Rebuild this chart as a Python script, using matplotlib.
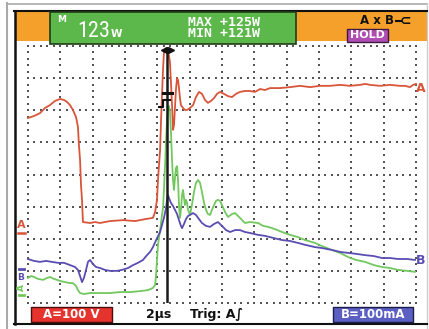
import matplotlib
matplotlib.use('Agg')
import matplotlib.pyplot as plt
from matplotlib.patches import Rectangle
from matplotlib import font_manager

# ---------------- data (time in µs, 2 µs/div; amplitude in screen divisions) ----------------
time_a = [0.00, 0.37, 0.74, 1.05, 1.36, 1.67, 1.98, 2.23, 2.41, 2.60, 2.78, 2.97, 3.09, 3.15, 3.22, 3.28,
          3.34, 3.40, 3.84, 4.14, 4.45, 5.07, 5.88, 6.62, 7.24, 7.73, 7.86, 7.98, 8.04, 8.17, 8.23, 8.29,
          8.35, 8.41, 8.54, 8.66, 8.78, 8.85, 8.91, 8.97, 9.03, 9.09, 9.15, 9.22, 9.28, 9.34, 9.40, 9.46,
          9.59, 9.71, 9.84, 10.02, 10.21, 10.39, 10.58, 10.76, 10.95, 11.13, 11.32, 11.51, 11.69, 11.88,
          12.12, 12.37, 12.62, 12.87, 13.11, 13.42, 13.73, 14.04, 14.35, 14.66, 14.97, 15.59, 16.21,
          16.83, 17.45, 18.06, 18.68, 19.30, 19.92, 20.54, 20.85, 21.16, 21.78, 22.39, 23.01, 23.32,
          23.63, 23.82, 24.00]
volt_a = [5.76, 5.82, 5.91, 6.07, 6.16, 6.29, 6.35, 6.32, 6.26, 6.16, 6.01, 5.79, 5.48, 4.92, 4.45, 3.67,
          3.21, 2.52, 2.49, 2.52, 2.49, 2.55, 2.58, 2.55, 2.61, 2.65, 2.83, 3.21, 3.83, 4.76, 5.70, 6.48,
          7.25, 7.81, 7.94, 7.88, 7.50, 6.79, 6.16, 5.39, 5.54, 6.07, 6.63, 7.00, 6.94, 6.69, 6.38, 6.16,
          6.07, 6.01, 6.01, 6.07, 6.16, 6.41, 6.57, 6.51, 6.32, 6.23, 6.29, 6.38, 6.51, 6.57,
          6.51, 6.44, 6.41, 6.51, 6.57, 6.60, 6.60, 6.57, 6.66, 6.63, 6.69, 6.69, 6.72,
          6.76, 6.72, 6.76, 6.76, 6.79, 6.76, 6.79, 6.82, 6.79, 6.76, 6.79, 6.76, 6.76,
          6.72, 6.79, 6.82]

time_p = [0.00, 0.19, 0.37, 0.62, 0.93, 1.18, 1.36, 1.61, 1.79, 2.04, 2.29, 2.60, 2.78, 2.97, 3.09, 3.22,
          3.46, 3.84, 4.45, 5.07, 5.69, 6.31, 6.93, 7.42, 7.73, 7.86, 7.92, 7.98, 8.04, 8.17, 8.29, 8.35,
          8.41, 8.48, 8.54, 8.60, 8.66, 8.72, 8.78, 8.85, 8.91, 8.97, 9.03, 9.09, 9.15, 9.22, 9.28, 9.34,
          9.40, 9.46, 9.53, 9.59, 9.65, 9.71, 9.77, 9.84, 9.90, 10.02, 10.14, 10.27, 10.39, 10.52, 10.64,
          10.76, 10.89, 11.01, 11.13, 11.26, 11.38, 11.51, 11.63, 11.75, 11.88, 12.00, 12.19, 12.37,
          12.62, 12.81, 13.11, 13.42, 13.73, 14.23, 14.54, 14.85, 15.28, 15.71, 16.21, 16.70, 17.14,
          17.75, 18.19, 18.81, 19.30, 19.80, 20.29, 20.85, 21.40, 21.90, 22.39, 22.89, 23.45, 23.94]
power = [0.78, 0.84, 0.81, 0.75, 0.72, 0.78, 0.81, 0.75, 0.72, 0.68, 0.65, 0.62, 0.62, 0.53, 0.40, 0.31,
         0.28, 0.31, 0.31, 0.31, 0.34, 0.34, 0.37, 0.40, 0.47, 0.56, 0.87, 1.34, 1.81, 2.27, 2.74, 2.96,
         3.52, 4.30, 5.07, 5.70, 6.07, 6.13, 5.95, 5.23, 4.45, 3.83, 3.52, 3.89, 4.20, 4.26, 3.83, 3.05,
         2.65, 2.90, 3.36, 3.52, 3.27, 3.05, 3.21, 3.11, 2.90, 2.74, 3.05, 3.46, 3.74, 3.83, 3.74,
         3.46, 3.11, 2.90, 2.77, 2.74, 2.90, 3.05, 3.18, 3.21, 3.18, 3.05, 2.83, 2.68,
         2.77, 2.80, 2.65, 2.49, 2.52, 2.49, 2.40, 2.37, 2.30, 2.21, 2.12, 2.05, 1.96,
         1.87, 1.77, 1.65, 1.56, 1.43, 1.34, 1.28, 1.18, 1.12, 1.09, 1.03, 1.00, 0.97]

time_b = [0.00, 0.37, 0.74, 1.11, 1.48, 1.86, 2.23, 2.60, 2.91, 3.09, 3.22, 3.34, 3.46, 3.59, 3.71, 3.84,
          4.02, 4.21, 4.45, 4.76, 5.07, 5.51, 5.81, 6.19, 6.50, 6.80, 7.11, 7.36, 7.55, 7.73, 7.98, 8.17,
          8.29, 8.41, 8.54, 8.60, 8.66, 8.72, 8.85, 8.97, 9.09, 9.22, 9.34, 9.46, 9.53, 9.65, 9.77, 9.90,
          10.02, 10.21, 10.39, 10.58, 10.76, 11.01, 11.26, 11.51, 11.75, 12.00, 12.25, 12.50, 12.81,
          13.11, 13.42, 13.73, 14.23, 14.66, 14.97, 15.71, 16.21, 16.70, 17.14, 17.75, 18.19, 18.81,
          19.30, 19.80, 20.29, 20.85, 21.40, 21.90, 22.39, 22.89, 23.45, 23.94]
curr_b = [1.37, 1.31, 1.28, 1.31, 1.28, 1.25, 1.25, 1.18, 1.12, 1.03, 0.84, 0.65, 0.78, 1.03, 1.28, 1.34,
          1.21, 1.12, 1.09, 1.03, 1.00, 1.00, 1.03, 1.09, 1.18, 1.25, 1.34, 1.49, 1.59, 1.74, 2.02, 2.21,
          2.43, 2.65, 2.96, 3.21, 3.36, 3.27, 3.11, 3.02, 2.90, 2.77, 2.58, 2.40, 2.33, 2.46, 2.61, 2.71,
          2.74, 2.80, 2.74, 2.61, 2.49, 2.40, 2.37, 2.46, 2.52, 2.40, 2.27, 2.21, 2.27,
          2.27, 2.21, 2.18, 2.12, 2.09, 2.05, 1.96, 1.93, 1.87, 1.81, 1.74, 1.71, 1.65,
          1.59, 1.56, 1.53, 1.49, 1.46, 1.40, 1.40, 1.37, 1.37, 1.34]

trigger_time = 8.60
n_xdiv, n_ydiv = 12, 8
us_per_div = 2

header_main = "123"
header_unit = "W"
header_max = "MAX +125W"
header_min = "MIN +121W"
range_a = "A=100 V"
range_b = "B=100mA"
timebase = "2µs"
trig_text = "Trig: A∫"

# ---------------- colours ----------------
C_RED = '#D8553A'
C_GREEN = '#72C85E'
C_PURPLE = '#5A4DB2'
C_ORANGE = '#F4A02A'
C_LCD = '#5DB84B'

# condensed face for the big LCD digits, if one is installed
cond_family = 'DejaVu Sans'
cond_stretch = 'normal'
names = {f.name for f in font_manager.fontManager.ttflist}
for cand in ['Liberation Sans Narrow', 'DejaVu Sans Condensed', 'Roboto Condensed', 'Open Sans Condensed']:
    if cand in names:
        cond_family = cand
        break
else:
    for f in font_manager.fontManager.ttflist:
        if f.name == 'DejaVu Sans' and f.stretch in ('condensed', 'semi-condensed', 600, 300):
            cond_stretch = 'condensed'
            break

W, H = 429, 329
fig = plt.figure(figsize=(W / 100, H / 100), dpi=100)
fig.patch.set_facecolor('white')

bg = fig.add_axes([0, 0, 1, 1], zorder=0)
bg.set_xlim(0, W); bg.set_ylim(H, 0); bg.axis('off')

# outer frames
bg.plot([7, 7], [3, 329], color='#aaaaaa', lw=1.5)
bg.plot([7, 427], [3.5, 3.5], color='#aaaaaa', lw=1.2)
bg.plot([427, 427], [3, 329], color='#cccccc', lw=1.0)
bg.plot([14.5, 14.5], [11, 324], color='#111111', lw=1.8)
bg.plot([14, 427], [11, 11], color='#111111', lw=1.5)
bg.plot([14, 427], [323.5, 323.5], color='#111111', lw=1.5)

# header
bg.add_patch(Rectangle((15.5, 12), 411, 28.5, facecolor=C_ORANGE, edgecolor='none'))

# ---------------- graticule + traces ----------------
L, R, T, B = 28, 416, 46, 303
ax = fig.add_axes([L / W, (H - B) / H, (R - L) / W, (B - T) / H], zorder=1)
ax.set_facecolor('none')
ax.set_xlim(0, n_xdiv * us_per_div)
ax.set_ylim(0, n_ydiv)
for s in ax.spines.values():
    s.set_visible(False)
ax.set_xticks([]); ax.set_yticks([])

gx, gy = [], []
for i in range(n_xdiv + 1):
    for k in range(n_ydiv * 5 + 1):
        gx.append(i * us_per_div); gy.append(k / 5)
for j in range(n_ydiv + 1):
    for k in range(n_xdiv * 5 + 1):
        gx.append(k * us_per_div / 5); gy.append(j)
ax.scatter(gx, gy, s=1.3, marker='s', color='#555555', linewidths=0, clip_on=False, zorder=1)

ax.plot(time_p, power, color=C_GREEN, lw=1.3, zorder=2, clip_on=False)
ax.plot(time_b, curr_b, color=C_PURPLE, lw=1.3, zorder=3, clip_on=False)
ax.plot(time_a, volt_a, color=C_RED, lw=1.3, zorder=4, clip_on=False)
ax.plot([trigger_time, trigger_time], [0, 7.9], color='#1a1a1a', lw=1.8, zorder=5)

# ---------------- foreground decorations ----------------
fg = fig.add_axes([0, 0, 1, 1], zorder=2)
fg.set_facecolor('none')
fg.set_xlim(0, W); fg.set_ylim(H, 0); fg.axis('off')

# LCD reading box
fg.add_patch(Rectangle((50, 11.5), 246, 32, facecolor=C_LCD, edgecolor='#1e3d17', lw=1.2))
fg.text(57, 19.5, "M", color='white', fontsize=6.5, fontweight='bold', ha='left', va='center')
fg.text(110, 37, header_main, color='white', fontsize=16, ha='right', va='baseline',
        family=cond_family, fontstretch=cond_stretch)
fg.text(111, 37, header_unit, color='white', fontsize=7.5, ha='left', va='baseline',
        fontweight='bold')
fg.text(188, 22, header_max, color='white', fontsize=9.5, fontweight='bold', ha='left', va='center',
        family='DejaVu Sans Mono')
fg.text(188, 33.5, header_min, color='white', fontsize=9.5, fontweight='bold', ha='left', va='center',
        family='DejaVu Sans Mono')

fg.text(360, 21, "A x B", color='#111111', fontsize=8.5, fontweight='bold', ha='left', va='center')
fg.plot([396, 401], [21, 21], color='#111111', lw=1.5)
fg.text(400, 21, "⊂", color='#111111', fontsize=10, fontweight='bold', ha='left', va='center')
fg.add_patch(Rectangle((347, 28.5), 41, 13, facecolor='#B04DB3', edgecolor='#3d1a40', lw=1.0))
fg.text(367.5, 35.3, "HOLD", color='white', fontsize=8, fontweight='bold', ha='center', va='center')

# trigger cursor marks
fg.plot([163.5], [50], marker='<', color='#111111', markersize=4.5)
fg.plot([170.5], [50], marker='>', color='#111111', markersize=4.5)
fg.plot([163, 172], [93, 93], color='#111111', lw=2.2)
fg.plot([159, 163, 163, 170], [107, 107, 99.5, 99.5], color='#111111', lw=1.5)

# channel markers
fg.text(21, 225, "A", color=C_RED, fontsize=8, fontweight='bold', ha='center', va='center')
fg.plot([17.5, 24.5], [232.5, 232.5], color=C_RED, lw=1.8)
fg.plot([18.5, 23.5], [269, 269], color=C_PURPLE, lw=2)
fg.text(21, 278, "B", color=C_PURPLE, fontsize=6.5, fontweight='bold', ha='center', va='center')
fg.text(21, 287.5, "A", color=C_GREEN, fontsize=6.5, fontweight='bold', ha='center', va='center', rotation=90)
fg.plot([18.5, 23.5], [295, 295], color=C_GREEN, lw=2)
fg.text(421, 88, "A", color=C_RED, fontsize=9, fontweight='bold', ha='center', va='center')
fg.text(421, 261, "B", color=C_PURPLE, fontsize=9, fontweight='bold', ha='center', va='center')

# bottom status line
fg.add_patch(Rectangle((31, 306.5), 81, 15.5, facecolor='#E5332E', edgecolor='#4a0d0b', lw=1.0))
fg.text(71.5, 314.5, range_a, color='white', fontsize=8.5, fontweight='bold', ha='center', va='center')
fg.text(159, 314.5, timebase, color='#111111', fontsize=9, fontweight='bold', ha='center', va='center')
fg.text(190, 314.5, trig_text, color='#111111', fontsize=9, fontweight='bold', ha='left', va='center')
fg.add_patch(Rectangle((333, 306.5), 80, 15.5, facecolor='#5B5FC2', edgecolor='#1c1d4a', lw=1.0))
fg.text(373, 314.5, range_b, color='white', fontsize=8.5, fontweight='bold', ha='center', va='center')

fig.savefig('out.png', dpi=100)
